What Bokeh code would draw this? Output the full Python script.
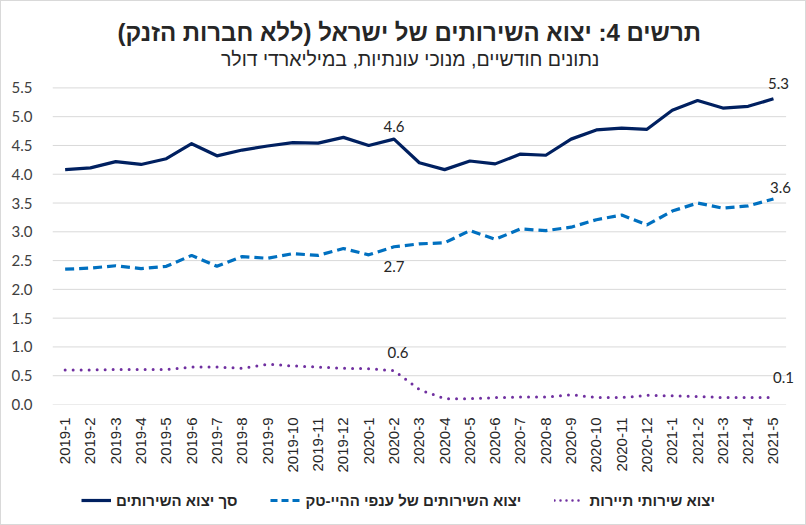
import math
from bokeh.plotting import figure
from bokeh.layouts import column
from bokeh.models import (ColumnDataSource, Range1d, FixedTicker, Legend, LegendItem,
                          LabelSet, Label, NumeralTickFormatter)
from bokeh.core.properties import value
from bokeh.embed import file_html
from bokeh.resources import INLINE

months = ["2019-1", "2019-2", "2019-3", "2019-4", "2019-5", "2019-6", "2019-7", "2019-8", "2019-9",
          "2019-10", "2019-11", "2019-12", "2020-1", "2020-2", "2020-3", "2020-4", "2020-5", "2020-6",
          "2020-7", "2020-8", "2020-9", "2020-10", "2020-11", "2020-12", "2021-1", "2021-2", "2021-3",
          "2021-4", "2021-5"]

total = [4.08, 4.11, 4.22, 4.17, 4.27, 4.53, 4.32, 4.42, 4.49, 4.55, 4.54, 4.64, 4.50, 4.61,
         4.20, 4.08, 4.23, 4.18, 4.35, 4.33, 4.61, 4.77, 4.80, 4.78, 5.11, 5.28, 5.15, 5.18, 5.31]
hitech = [2.35, 2.37, 2.41, 2.36, 2.40, 2.59, 2.40, 2.57, 2.54, 2.62, 2.59, 2.71, 2.60, 2.74,
          2.79, 2.81, 3.02, 2.87, 3.05, 3.02, 3.08, 3.21, 3.29, 3.12, 3.36, 3.50, 3.41, 3.45, 3.57]
tourism = [0.60, 0.60, 0.61, 0.61, 0.61, 0.65, 0.65, 0.63, 0.70, 0.67, 0.65, 0.63, 0.62, 0.59,
           0.26, 0.10, 0.10, 0.12, 0.13, 0.13, 0.17, 0.12, 0.12, 0.16, 0.15, 0.14, 0.12, 0.12, 0.12]

series_names = ["סך יצוא השירותים", "יצוא השירותים של ענפי ההיי-טק", "יצוא שירותי תיירות"]
y_ticks = [0.0, 0.5, 1.0, 1.5, 2.0, 2.5, 3.0, 3.5, 4.0, 4.5, 5.0, 5.5]

title_text = "תרשים 4: יצוא השירותים של ישראל (ללא חברות הזנק)"
subtitle_text = "נתונים חודשיים, מנוכי עונתיות, במיליארדי דולר"

# which points carry data labels, and their pixel offsets (style only)
label_idx = [13, 28]
label_offsets = {
    "total": [(0, 7), (5, 10)],
    "hitech": [(0, -25), (7, 6)],
    "tourism": [(4, 13), (10, 15)],
}

colors = {"total": "#002060", "hitech": "#0070C0", "tourism": "#7030A0"}

x_idx = list(range(len(months)))
n = len(months)

# ---- title strip ----
tf = figure(width=804, height=72, x_range=Range1d(0, 804), y_range=Range1d(0, 72),
            output_backend="svg", toolbar_location=None, x_axis_type=None, y_axis_type=None,
            min_border_left=0, min_border_right=0, min_border_top=0, min_border_bottom=0)
tf.outline_line_color = None
tf.xgrid.grid_line_color = None
tf.ygrid.grid_line_color = None
tf.add_layout(Label(x=385, y=41, text=title_text, text_align="center", text_baseline="middle",
                    text_font="Liberation Sans", text_font_size="24px", text_font_style="bold",
                    text_color="#262626"))
tf.add_layout(Label(x=386, y=15, text=subtitle_text, text_align="center", text_baseline="middle",
                    text_font="Liberation Sans", text_font_size="19.5px",
                    text_color="#262626"))

# ---- main chart ----
p = figure(width=804, height=402, x_range=Range1d(-0.5, n - 0.05), y_range=Range1d(0, 5.75),
           output_backend="svg", toolbar_location=None,
           min_border_left=51, min_border_right=8, min_border_top=0, min_border_bottom=68)
p.outline_line_color = None

p.yaxis.ticker = FixedTicker(ticks=y_ticks)
p.yaxis.formatter = NumeralTickFormatter(format="0.0")
p.yaxis.axis_line_color = None
p.yaxis.major_tick_line_color = None
p.yaxis.minor_tick_line_color = None
p.yaxis.major_label_text_font = "Lato"
p.yaxis.major_label_text_font_size = "15px"
p.yaxis.major_label_text_color = "#404040"
p.yaxis.major_label_standoff = 14

p.xaxis.ticker = FixedTicker(ticks=x_idx)
p.xaxis.major_label_overrides = {i: m for i, m in zip(x_idx, months)}
p.xaxis.axis_line_color = None
p.xaxis.major_tick_line_color = None
p.xaxis.minor_tick_line_color = None
p.xaxis.major_label_orientation = math.pi / 2
p.xaxis.major_label_text_font = "Liberation Sans"
p.xaxis.major_label_text_font_size = "15px"
p.xaxis.major_label_text_color = "#262626"
p.xaxis.major_label_standoff = 7

p.xgrid.grid_line_color = None
p.ygrid.grid_line_color = None

# horizontal gridlines spanning the category band only
p.segment(x0=[x_idx[0] - 0.5] * len(y_ticks), x1=[x_idx[-1] + 0.5] * len(y_ticks),
          y0=y_ticks, y1=y_ticks, line_color="#d9d9d9", line_width=1)

src = ColumnDataSource(dict(x=x_idx, total=total, hitech=hitech, tourism=tourism))

p.line("x", "total", source=src, line_color=colors["total"], line_width=3.2, line_join="round")
p.line("x", "hitech", source=src, line_color=colors["hitech"], line_width=3.2, line_dash="9 5")
p.line("x", "tourism", source=src, line_color=colors["tourism"], line_width=3, line_dash="0 8",
       line_cap="round")

for key, vals in (("total", total), ("hitech", hitech), ("tourism", tourism)):
    offs = label_offsets[key]
    ls = ColumnDataSource(dict(
        x=[x_idx[i] for i in label_idx],
        y=[vals[i] for i in label_idx],
        t=["%.1f" % vals[i] for i in label_idx],
        dx=[o[0] for o in offs],
        dy=[o[1] for o in offs],
    ))
    lab = LabelSet(x="x", y="y", text="t", source=ls, x_offset="dx", y_offset="dy",
                   text_align="center", text_baseline="bottom", text_font=value("Lato"),
                   text_font_size="15px", text_color="#262626")
    p.add_layout(lab)

# ---- legend strip ----
lf = figure(width=804, height=49, x_range=Range1d(0, 1), y_range=Range1d(0, 1),
            output_backend="svg", toolbar_location=None, x_axis_type=None, y_axis_type=None,
            min_border_left=0, min_border_right=0, min_border_top=0, min_border_bottom=0)
lf.outline_line_color = None
lf.xgrid.grid_line_color = None
lf.ygrid.grid_line_color = None
offscreen = ColumnDataSource(dict(x=[-3, -2], y=[-3, -2]))
l1 = lf.line("x", "y", source=offscreen, line_color=colors["total"], line_width=3.2)
l2 = lf.line("x", "y", source=offscreen, line_color=colors["hitech"], line_width=3.2,
             line_dash="7 4")
l3 = lf.line("x", "y", source=offscreen, line_color=colors["tourism"], line_width=2.5,
             line_dash="0 6", line_cap="round")

legend = Legend(items=[LegendItem(label=series_names[0], renderers=[l1]),
                       LegendItem(label=series_names[1], renderers=[l2]),
                       LegendItem(label=series_names[2], renderers=[l3])],
                orientation="horizontal", location=(29, 14))
legend.label_text_font = "Liberation Sans"
legend.label_text_font_size = "15px"
legend.label_text_font_style = "bold"
legend.label_text_color = "#262626"
legend.glyph_width = 30
legend.spacing = 33
legend.label_standoff = 5
legend.border_line_color = None
legend.background_fill_alpha = 0
legend.margin = 0
legend.padding = 6
lf.add_layout(legend, "center")

layout = column(tf, p, lf, spacing=0)
layout.styles = {"border": "1px solid #d9d9d9"}

open("out.html", "w").write(file_html(layout, INLINE))
